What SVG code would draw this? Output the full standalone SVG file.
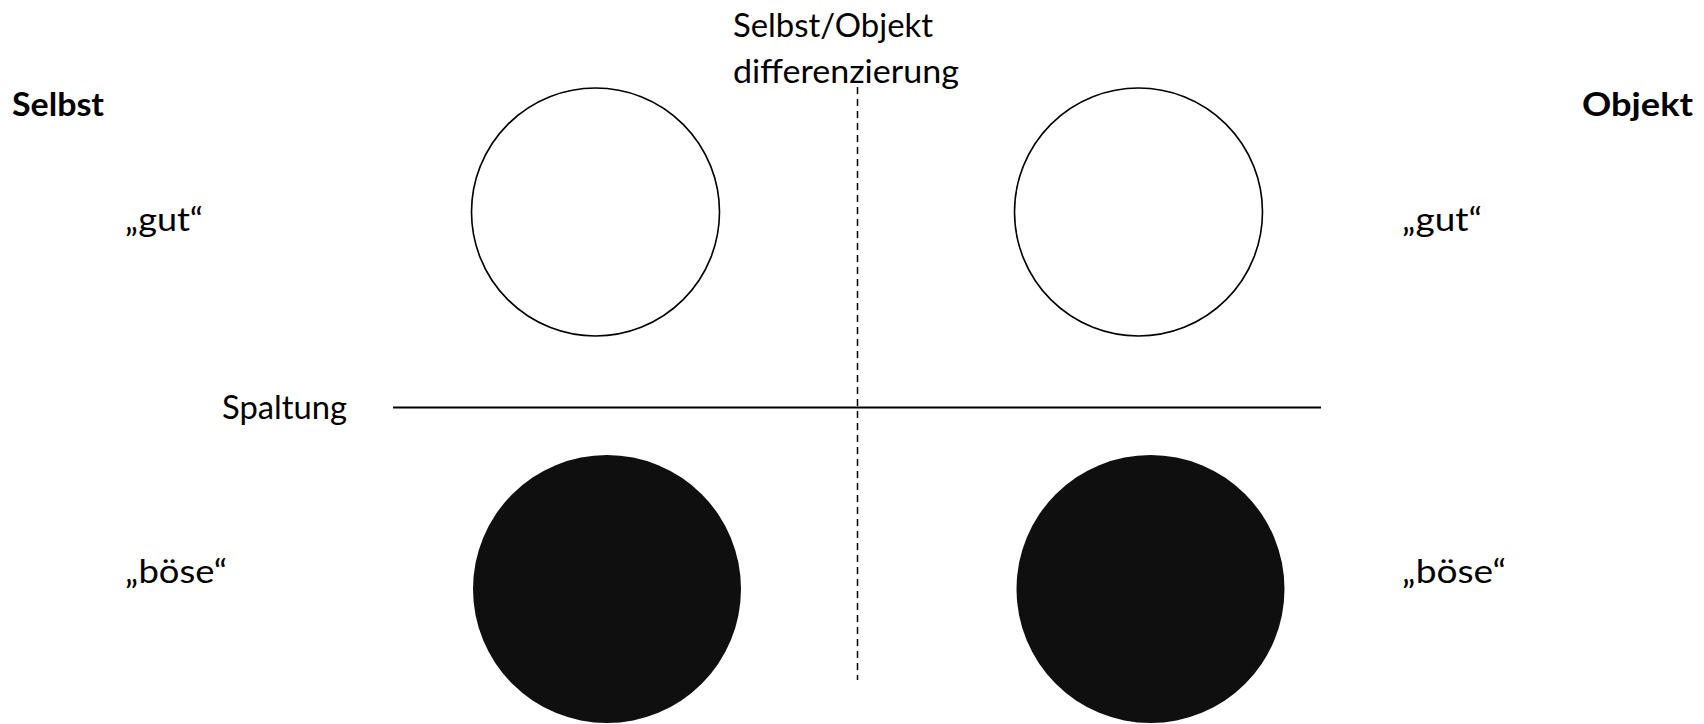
<svg xmlns="http://www.w3.org/2000/svg" width="1704" height="724" viewBox="0 0 1704 724">
<style>
.t{font-family:Lato,"Open Sans","Liberation Sans",sans-serif;font-size:32px;fill:#000}
.b{font-weight:bold}
.good{fill:#fff;stroke:#000;stroke-width:1.6}
.bad{fill:#0f0f0f}
.conn{stroke:#000;fill:none}
</style>
<rect width="1704" height="724" fill="#fff"/>
<g id="connectors">
<line class="conn" x1="857.5" y1="87" x2="857.5" y2="680" stroke-width="1.5" stroke-dasharray="7 5"/>
<line class="conn" x1="393" y1="407.5" x2="1321" y2="407.5" stroke-width="2"/>
</g>
<g id="self-good"><circle class="good" cx="595.5" cy="212" r="124"/></g>
<g id="object-good"><circle class="good" cx="1138.5" cy="212" r="124"/></g>
<g id="self-bad"><circle class="bad" cx="607" cy="589" r="134"/></g>
<g id="object-bad"><circle class="bad" cx="1150.5" cy="589" r="134"/></g>
<g id="labels">
<text class="t b" x="12" y="116" textLength="92" lengthAdjust="spacingAndGlyphs">Selbst</text>
<text class="t b" x="1582" y="116" textLength="111" lengthAdjust="spacingAndGlyphs">Objekt</text>
<text class="t" x="733" y="36.5" textLength="200" lengthAdjust="spacingAndGlyphs">Selbst/Objekt</text>
<text class="t" x="733" y="82.5" textLength="226" lengthAdjust="spacingAndGlyphs">differenzierung</text>
<text class="t" x="125" y="231" textLength="78" lengthAdjust="spacingAndGlyphs">„gut“</text>
<text class="t" x="1402" y="231" textLength="80" lengthAdjust="spacingAndGlyphs">„gut“</text>
<text class="t" x="222" y="419" textLength="125" lengthAdjust="spacingAndGlyphs">Spaltung</text>
<text class="t" x="125" y="583" textLength="102" lengthAdjust="spacingAndGlyphs">„böse“</text>
<text class="t" x="1402" y="583" textLength="104" lengthAdjust="spacingAndGlyphs">„böse“</text>
</g>
</svg>
